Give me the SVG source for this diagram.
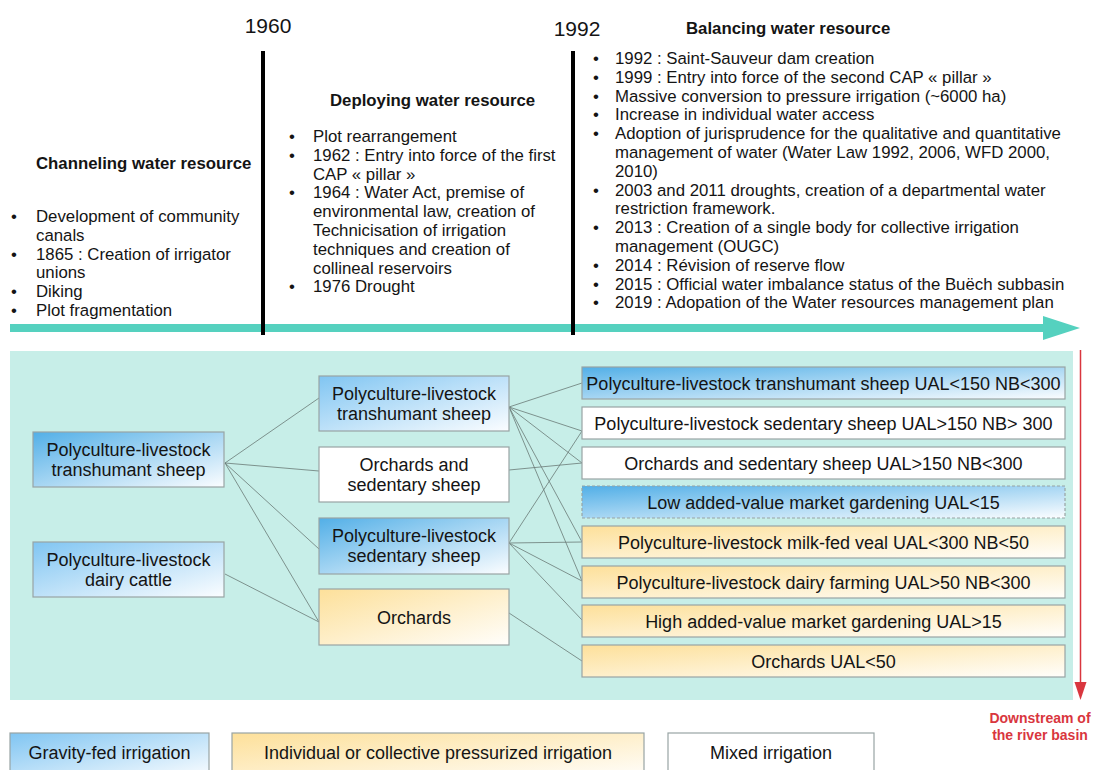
<svg xmlns="http://www.w3.org/2000/svg" width="1100" height="770" viewBox="0 0 1100 770">
<defs>
<linearGradient id="gBlue" x1="0" y1="0" x2="1" y2="1">
<stop offset="0" stop-color="#52afe7"/>
<stop offset="1" stop-color="#fbfdff"/>
</linearGradient>
<linearGradient id="gBlueL" x1="0" y1="0" x2="1" y2="1">
<stop offset="0" stop-color="#80c5f2"/>
<stop offset="1" stop-color="#fbfdff"/>
</linearGradient>
<linearGradient id="gOr" x1="0" y1="0" x2="1" y2="1">
<stop offset="0" stop-color="#fde09a"/>
<stop offset="1" stop-color="#fffefb"/>
</linearGradient>
<style>
text{font-family:"Liberation Sans",Arial,sans-serif;fill:#141414}
.b{font-size:16.8px}
.h{font-size:16.8px;font-weight:bold}
.yr{font-size:21px}
.n{font-size:18px;text-anchor:middle}
.box{stroke:#98a4a4;stroke-width:1.2}
.dash{stroke-dasharray:3 2}
.c{stroke:#6a7a76;stroke-width:0.8;fill:none}
.red{fill:#d9363e;font-size:14px;font-weight:bold;text-anchor:middle}
</style>
</defs>
<rect width="1100" height="770" fill="#ffffff"/>

<g id="timeline">
<rect x="10" y="324" width="1035" height="8" fill="#55d1bf"/>
<polygon points="1043,316 1080,328 1043,340" fill="#55d1bf"/>
<rect x="261" y="51" width="4" height="284" fill="#000"/>
<rect x="571" y="51" width="4" height="284" fill="#000"/>
<text class="yr" x="268" y="33" text-anchor="middle">1960</text>
<text class="yr" x="577" y="36" text-anchor="middle">1992</text>
</g>

<g id="period-channeling">
<text class="h" x="36" y="169">Channeling water resource</text>
<g class="b">
<text x="11" y="222">•</text><text x="36" y="222">Development of community</text>
<text x="36" y="240.8">canals</text>
<text x="11" y="259.6">•</text><text x="36" y="259.6">1865 : Creation of irrigator</text>
<text x="36" y="278.4">unions</text>
<text x="11" y="297.2">•</text><text x="36" y="297.2">Diking</text>
<text x="11" y="316">•</text><text x="36" y="316">Plot fragmentation</text>
</g>
</g>

<g id="period-deploying">
<text class="h" x="330" y="106">Deploying water resource</text>
<g class="b">
<text x="289" y="142">•</text><text x="313" y="142">Plot rearrangement</text>
<text x="289" y="160.8">•</text><text x="313" y="160.8">1962 : Entry into force of the first</text>
<text x="313" y="179.6">CAP « pillar »</text>
<text x="289" y="198.4">•</text><text x="313" y="198.4">1964 : Water Act, premise of</text>
<text x="313" y="217.2">environmental law, creation of</text>
<text x="313" y="236">Technicisation of irrigation</text>
<text x="313" y="254.8">techniques and creation of</text>
<text x="313" y="273.6">collineal reservoirs</text>
<text x="289" y="292.4">•</text><text x="313" y="292.4">1976 Drought</text>
</g>
</g>

<g id="period-balancing">
<text class="h" x="686" y="34">Balancing water resource</text>
<g class="b">
<text x="593" y="64">•</text><text x="615" y="64">1992 : Saint-Sauveur dam creation</text>
<text x="593" y="82.8">•</text><text x="615" y="82.8">1999 : Entry into force of the second CAP « pillar »</text>
<text x="593" y="101.6">•</text><text x="615" y="101.6">Massive conversion to pressure irrigation (~6000 ha)</text>
<text x="593" y="120.4">•</text><text x="615" y="120.4">Increase in individual water access</text>
<text x="593" y="139.2">•</text><text x="615" y="139.2">Adoption of jurisprudence for the qualitative and quantitative</text>
<text x="615" y="158">management of water (Water Law 1992, 2006, WFD 2000,</text>
<text x="615" y="176.8">2010)</text>
<text x="593" y="195.6">•</text><text x="615" y="195.6">2003 and 2011 droughts, creation of a departmental water</text>
<text x="615" y="214.4">restriction framework.</text>
<text x="593" y="233.2">•</text><text x="615" y="233.2">2013 : Creation of a single body for collective irrigation</text>
<text x="615" y="252">management (OUGC)</text>
<text x="593" y="270.8">•</text><text x="615" y="270.8">2014 : Révision of reserve flow</text>
<text x="593" y="289.6">•</text><text x="615" y="289.6">2015 : Official water imbalance status of the Buëch subbasin</text>
<text x="593" y="308.4">•</text><text x="615" y="308.4">2019 : Adopation of the Water resources management plan</text>
</g>
</g>

<rect id="panel" x="10" y="351" width="1063" height="349" fill="#c7eee8"/>

<g id="downstream">
<line x1="1080.5" y1="350" x2="1080.5" y2="684" stroke="#d9363e" stroke-width="1.5"/>
<polygon points="1074.5,682 1086.5,682 1080.5,700" fill="#d9363e"/>
<text class="red" x="1040" y="723">Downstream of</text>
<text class="red" x="1040" y="740">the river basin</text>
</g>

<g id="connectors" class="c">
<line x1="225" y1="463" x2="319" y2="398"/>
<line x1="225" y1="463" x2="319" y2="471"/>
<line x1="225" y1="463" x2="319" y2="549"/>
<line x1="225" y1="463" x2="319" y2="622"/>
<line x1="225" y1="574" x2="319" y2="622"/>
<line x1="509" y1="407" x2="582" y2="383"/>
<line x1="509" y1="407" x2="582" y2="431"/>
<line x1="509" y1="407" x2="582" y2="463"/>
<line x1="509" y1="407" x2="582" y2="542"/>
<line x1="509" y1="407" x2="582" y2="581"/>
<line x1="509" y1="470" x2="582" y2="463"/>
<line x1="509" y1="543" x2="582" y2="431"/>
<line x1="509" y1="543" x2="582" y2="542"/>
<line x1="509" y1="543" x2="582" y2="581"/>
<line x1="509" y1="543" x2="582" y2="620"/>
<line x1="509" y1="613" x2="582" y2="661"/>
</g>

<g id="left-transhumant">
<rect class="box" x="33" y="432" width="191" height="55" fill="url(#gBlue)"/>
<text class="n" x="128.5" y="456">Polyculture-livestock</text>
<text class="n" x="128.5" y="476">transhumant sheep</text>
</g>
<g id="left-dairy">
<rect class="box" x="33" y="542" width="191" height="55" fill="url(#gBlueL)"/>
<text class="n" x="128.5" y="566">Polyculture-livestock</text>
<text class="n" x="128.5" y="586">dairy cattle</text>
</g>

<g id="mid-transhumant">
<rect class="box" x="319" y="376" width="190" height="55" fill="url(#gBlueL)"/>
<text class="n" x="414" y="400">Polyculture-livestock</text>
<text class="n" x="414" y="420">transhumant sheep</text>
</g>
<g id="mid-orchards-sheep">
<rect class="box" x="319" y="447" width="190" height="55" fill="#ffffff"/>
<text class="n" x="414" y="471">Orchards and</text>
<text class="n" x="414" y="491">sedentary sheep</text>
</g>
<g id="mid-sedentary">
<rect class="box" x="319" y="518" width="190" height="56" fill="url(#gBlue)"/>
<text class="n" x="414" y="542">Polyculture-livestock</text>
<text class="n" x="414" y="562">sedentary sheep</text>
</g>
<g id="mid-orchards">
<rect class="box" x="319" y="589" width="190" height="56" fill="url(#gOr)"/>
<text class="n" x="414" y="624">Orchards</text>
</g>

<g id="r1">
<rect class="box" x="582" y="367" width="483" height="32" fill="url(#gBlue)"/>
<text class="n" x="823.5" y="389.5">Polyculture-livestock transhumant sheep UAL&lt;150 NB&lt;300</text>
</g>
<g id="r2">
<rect class="box" x="582" y="407" width="483" height="32" fill="#ffffff"/>
<text class="n" x="823.5" y="429.5">Polyculture-livestock sedentary sheep UAL&gt;150 NB&gt; 300</text>
</g>
<g id="r3">
<rect class="box" x="582" y="447" width="483" height="32" fill="#ffffff"/>
<text class="n" x="823.5" y="469.5">Orchards and sedentary sheep UAL&gt;150 NB&lt;300</text>
</g>
<g id="r4">
<rect class="box dash" x="582" y="486" width="483" height="32" fill="url(#gBlue)"/>
<text class="n" x="823.5" y="508.5">Low added-value market gardening UAL&lt;15</text>
</g>
<g id="r5">
<rect class="box" x="582" y="526" width="483" height="32" fill="url(#gOr)"/>
<text class="n" x="823.5" y="548.5">Polyculture-livestock milk-fed veal UAL&lt;300 NB&lt;50</text>
</g>
<g id="r6">
<rect class="box" x="582" y="566" width="483" height="32" fill="url(#gOr)"/>
<text class="n" x="823.5" y="588.5">Polyculture-livestock dairy farming UAL&gt;50 NB&lt;300</text>
</g>
<g id="r7">
<rect class="box" x="582" y="605" width="483" height="32" fill="url(#gOr)"/>
<text class="n" x="823.5" y="627.5">High added-value market gardening UAL&gt;15</text>
</g>
<g id="r8">
<rect class="box" x="582" y="645" width="483" height="32" fill="url(#gOr)"/>
<text class="n" x="823.5" y="667.5">Orchards UAL&lt;50</text>
</g>

<g id="legend-gravity">
<rect class="box" x="10" y="733" width="199" height="45" fill="url(#gBlueL)"/>
<text class="n" x="109.5" y="759">Gravity-fed irrigation</text>
</g>
<g id="legend-pressurized">
<rect class="box" x="232" y="733" width="412" height="45" fill="url(#gOr)"/>
<text class="n" x="438" y="759">Individual or collective pressurized irrigation</text>
</g>
<g id="legend-mixed">
<rect class="box" x="668" y="733" width="206" height="45" fill="#ffffff"/>
<text class="n" x="771" y="759">Mixed irrigation</text>
</g>
</svg>
